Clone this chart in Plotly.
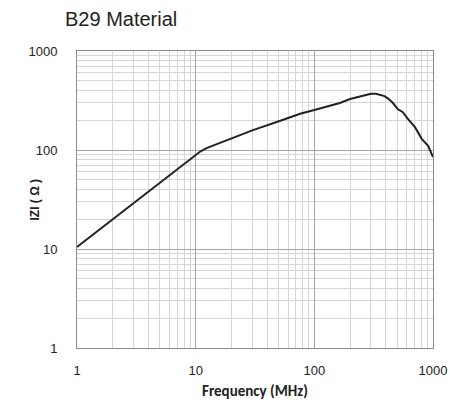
import plotly.graph_objects as go

freq_mhz = [1, 10, 11, 12.5, 15, 19.5, 30, 51, 76, 100, 164, 200, 230, 252, 280, 300, 330, 357, 390, 417, 440, 460, 504, 530, 557, 614, 660, 705, 806, 910, 1000]
impedance_ohm = [10.5, 89, 97, 105, 114, 129, 158, 196, 232, 253, 298, 327, 342, 351, 364, 370, 369, 362, 350, 333, 315, 298, 259, 248, 241, 206, 188, 170, 129, 110, 85]

decade_vals = [1, 10, 100, 1000]
decade_text = ["1", "10", "100", "1000"]
minor_vals = [m * d for d in [1, 10, 100] for m in range(2, 10)]

W, H = 450, 405
PL, PR, PT, PB = 77, 433, 51, 348

fig = go.Figure()
fig.add_trace(go.Scatter(x=freq_mhz, y=impedance_ohm, mode="lines",
                         line=dict(color="#222222", width=2),
                         showlegend=False))

axis_common = dict(type="log", range=[0, 3], tickmode="array", tickvals=decade_vals, ticktext=decade_text,
                   showgrid=True, gridcolor="#a6a6a6", gridwidth=1,
                   showline=True, linecolor="#8c8c8c", linewidth=1, mirror=True,
                   ticks="", zeroline=False, automargin=False,
                   tickfont=dict(family="Liberation Sans, Arial", size=13, color="#222222"),
                   minor=dict(tickmode="array", tickvals=minor_vals, showgrid=True, gridcolor="#d6d6d6", gridwidth=1, ticks=""))

fig.update_xaxes(**axis_common,
                 title=dict(text="<b>Frequency (MHz)</b>", font=dict(family="Carlito, Liberation Sans, Arial", size=15, color="#222222"), standoff=8))
fig.update_yaxes(**axis_common)
fig.update_xaxes(ticklabelstandoff=10)
fig.update_yaxes(ticklabelstandoff=16)

fig.add_annotation(text="<b>IZI ( Ω )</b>", textangle=-90, showarrow=False,
                   xref="paper", yref="paper", x=(34 - PL) / (PR - PL), y=0.5,
                   xanchor="center", yanchor="middle",
                   font=dict(family="Liberation Sans, Arial", size=12, color="#222222"))

fig.update_layout(width=W, height=H,
                  margin=dict(l=PL, r=W - PR, t=PT, b=H - PB),
                  paper_bgcolor="white", plot_bgcolor="white",
                  title=dict(text="B29 Material", x=65 / W, xanchor="left", y=1 - 19 / H, yanchor="middle",
                             font=dict(family="Liberation Sans, Arial", size=20, color="#222222")))

fig.write_html("out.html", config={"displayModeBar": False},
               post_script="document.body.style.margin='0';document.body.style.overflow='hidden';")
